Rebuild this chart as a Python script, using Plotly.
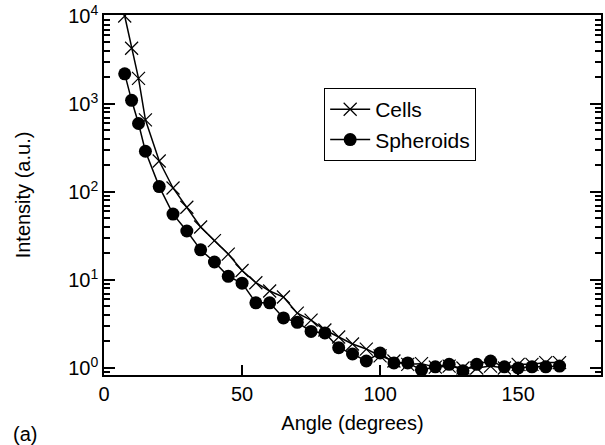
import plotly.graph_objects as go

# scattering angle (degrees)
angle = [7.5, 10, 12.5, 15, 20, 25, 30, 35, 40, 45, 50, 55, 60, 65, 70, 75, 80, 85,
         90, 95, 100, 105, 110, 115, 120, 125, 130, 135, 140, 145, 150, 155, 160, 165]

# intensity (a.u.)
cells = [10000, 4300, 1950, 660, 225, 111, 67, 40, 28, 19.7, 12.8, 9.3, 7.5, 6.4,
         4.2, 3.5, 2.7, 2.25, 1.87, 1.64, 1.37, 1.2, 1.1, 1.12, 1.02, 1.05, 1.0, 1.0,
         1.05, 1.0, 1.1, 1.1, 1.15, 1.15]
spheroids = [2200, 1100, 600, 290, 115, 56, 36, 22, 16, 11, 9.2, 5.5, 5.5, 3.7,
             3.3, 2.6, 2.5, 1.7, 1.44, 1.2, 1.48, 1.14, 1.14, 0.95, 1.03, 1.1, 0.93,
             1.1, 1.2, 1.03, 1.0, 1.03, 1.03, 1.05]

y_major = [1, 10, 100, 1000, 10000]
y_major_text = ["10<sup>0</sup>", "10<sup>1</sup>", "10<sup>2</sup>", "10<sup>3</sup>", "10<sup>4</sup>"]
y_minor = [0.9] + [m * 10 ** k for k in range(4) for m in range(2, 10)]
x_tickvals = [0, 50, 100, 150]

FONT = "Liberation Sans, Arial, Helvetica, sans-serif"
YRANGE = [-0.08, 4.011]

fig = go.Figure()
fig.add_trace(go.Scatter(
    x=angle, y=cells, name="Cells", mode="lines+markers",
    line=dict(color="black", width=1.5),
    marker=dict(symbol="x-thin", size=13, line=dict(color="black", width=1.2)),
))
fig.add_trace(go.Scatter(
    x=angle, y=spheroids, name="Spheroids", mode="lines+markers",
    line=dict(color="black", width=1.5),
    marker=dict(symbol="circle", size=13, color="black"),
))
# invisible copy so the overlaid minor-tick axis gets drawn
fig.add_trace(go.Scatter(x=angle, y=cells, yaxis="y2", mode="none",
                         showlegend=False, hoverinfo="skip"))

fig.update_xaxes(
    range=[0, 180], tickvals=x_tickvals, ticks="inside", ticklen=10,
    tickwidth=1.5, tickcolor="black",
    showline=True, linecolor="black", linewidth=1.5, mirror=True,
    showgrid=False, zeroline=False, automargin=False,
    title=dict(text="Angle (degrees)", standoff=12, font=dict(size=20)),
)
# decade ticks with labels
fig.update_yaxes(
    type="log", range=YRANGE, tickvals=y_major, ticktext=y_major_text,
    ticks="inside", ticklen=11, tickcolor="black", tickwidth=1.5,
    showline=True, linecolor="black", linewidth=1.5,
    mirror="ticks", showgrid=False, zeroline=False, automargin=False,
    title=dict(text="Intensity (a.u.)", standoff=32, font=dict(size=20)),
)
# short minor ticks
fig.update_layout(yaxis2=dict(
    type="log", range=YRANGE, overlaying="y", anchor="x", side="left",
    tickvals=y_minor, ticks="inside", ticklen=6, tickwidth=1.5, tickcolor="black",
    showticklabels=False, mirror="ticks", showline=False, showgrid=False,
    zeroline=False, automargin=False,
))

fig.add_annotation(text="(a)", x=-0.159, y=-0.164, xref="paper", yref="paper",
                   xanchor="center", yanchor="middle",
                   showarrow=False, font=dict(size=20))

fig.update_layout(
    width=605, height=445,
    margin=dict(l=104, r=4, t=15, b=70),
    paper_bgcolor="white", plot_bgcolor="white",
    font=dict(family=FONT, size=20, color="black"),
    legend=dict(x=0.443, y=0.797, xanchor="left", yanchor="top",
                bordercolor="black", borderwidth=1, bgcolor="white",
                font=dict(size=21), tracegroupgap=0, itemwidth=40),
    showlegend=True,
)

# page body has a default 8px margin; drop it so the figure sits at the window edge
fig.write_html("out.html", config={"displayModeBar": False},
               post_script="document.body.style.margin='0';document.body.style.overflow='hidden';")
